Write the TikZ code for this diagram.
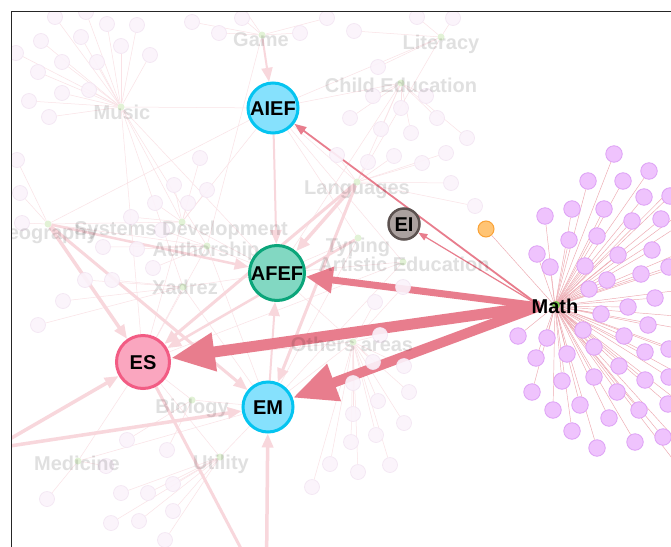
\documentclass[tikz,border=0pt]{standalone}
\usepackage{fontspec}
\setmainfont{Liberation Sans}
\usetikzlibrary{arrows.meta}
\definecolor{fnodefill}{HTML}{FBF3FB}
\definecolor{fnodedraw}{HTML}{F3E5F3}
\definecolor{flinec}{HTML}{FAE2E6}
\definecolor{fthickc}{HTML}{F8D7DC}
\definecolor{hubgreen}{HTML}{E2F2D6}
\definecolor{pfill}{HTML}{EFC3FD}
\definecolor{pdraw}{HTML}{DDA0F5}
\definecolor{plinec}{HTML}{EDA8B0}
\definecolor{edgec}{HTML}{E87D8D}
\definecolor{cyanfill}{HTML}{86E1FD}
\definecolor{cyandraw}{HTML}{05C4F0}
\definecolor{tealfill}{HTML}{82D8C2}
\definecolor{tealdraw}{HTML}{0BA57A}
\definecolor{pinkfill}{HTML}{FAA6BF}
\definecolor{pinkdraw}{HTML}{F25C84}
\definecolor{grayfill}{HTML}{ABA19F}
\definecolor{graydraw}{HTML}{5C5250}
\definecolor{orangefill}{HTML}{FFC474}
\definecolor{orangedraw}{HTML}{FAA236}
\definecolor{mathgreen}{HTML}{7CC850}
\pgfdeclarelayer{l1}\pgfdeclarelayer{l2}\pgfdeclarelayer{l3}\pgfdeclarelayer{l4}\pgfdeclarelayer{front}
\pgfsetlayers{l1,l2,l3,l4,main,front}
\begin{document}
\begin{tikzpicture}[x=1pt,y=-1pt,
  fnode/.style={circle,minimum size=15pt,inner sep=0pt,fill=fnodefill,draw=fnodedraw,line width=0.6pt,fill opacity=0.9},
  hubdot/.style={circle,minimum size=7pt,inner sep=0pt,fill=hubgreen},
  flabel/.style={font=\bfseries\fontsize{20}{24}\selectfont,text=black,text opacity=0.12,inner sep=0pt,text height=14.4pt,text depth=0pt},
  fline/.style={draw=flinec,line width=0.5pt},
  fthick/.style={draw=fthickc,line width=3pt,-{Triangle[length=14pt,width=11pt]}},
  pnode/.style={circle,minimum size=16.5pt,inner sep=0pt,fill=pfill,draw=pdraw,line width=0.8pt},
  pline/.style={draw=plinec,line width=0.45pt},
  mainnode/.style={circle,inner sep=0pt,line width=3pt,font=\bfseries\fontsize{20}{24}\selectfont,text height=14.4pt,text depth=0pt},
  mainedge/.style={draw=edgec},
]
\useasboundingbox (0,0) rectangle (671,546);
\begin{pgfonlayer}{l1}
\fill[white] (0,0) rectangle (671,546);
\end{pgfonlayer}

% ---------- main nodes ----------
\node[mainnode,minimum size=50pt,fill=cyanfill,draw=cyandraw] (AIEF) at (273,108) {AIEF};
\node[mainnode,minimum size=55pt,fill=tealfill,draw=tealdraw] (AFEF) at (277,273) {AFEF};
\node[mainnode,minimum size=53pt,fill=pinkfill,draw=pinkdraw] (ES) at (143,362) {ES};
\node[mainnode,minimum size=50pt,fill=cyanfill,draw=cyandraw] (EM) at (268,407) {EM};
\node[mainnode,minimum size=31pt,line width=2.5pt,fill=grayfill,draw=graydraw] (EI) at (404,224) {EI};
\node[circle,minimum size=16pt,inner sep=0pt,fill=orangefill,draw=orangedraw,line width=1pt] (OR) at (486,229) {};
\node[circle,minimum size=8pt,inner sep=0pt,fill=mathgreen] (mdot) at (556,305) {};
\node[font=\bfseries\fontsize{20}{24}\selectfont,inner sep=0pt,text height=14.4pt,text depth=0pt] (Math) at (555,306) {Math};
\coordinate (mathc) at (540,306);
\coordinate (mathp) at (555,306);

% ---------- faint hubs, leaves, labels ----------
\begin{pgfonlayer}{l3}
\foreach \n/\x/\y in {hmu/121/107,hga/262/35,hli/441/37,hce/401/83,hla/357/182,hsd/182/222,hge/48/224,hau/207/246,hxa/183/287,hot/353/342,hbi/192/400,hme/78/461,hut/220/457,hty/358/238,har/403/262}
  \node[hubdot] (\n) at (\x,\y) {};
\foreach \x/\y [count=\i] in {55/17,86/12,107/24,137/25,16/53,41/41,81/37,121/46,150/55,62/62,97/62,38/72,89/90,62/93,29/101,49/117}
  \node[fnode] (mu\i) at (\x,\y) {};
\foreach \x/\y [count=\i] in {192/22,219/33,242/18,300/33,327/18,240/3}
  \node[fnode] (ga\i) at (\x,\y) {};
\foreach \x/\y [count=\i] in {417/17,453/18,354/31,378/67}
  \node[fnode] (li\i) at (\x,\y) {};
\foreach \x/\y [count=\i] in {373/96,401/108,426/96,350/118,381/129,411/133,437/118,467/138}
  \node[fnode] (ce\i) at (\x,\y) {};
\foreach \x/\y [count=\i] in {337/155,368/162,394/156,422/163,446/153,451/183,475/206}
  \node[fnode] (la\i) at (\x,\y) {};
\foreach \x/\y [count=\i] in {200/158,174/185,207/190,188/203,155/203,131/217}
  \node[fnode] (sd\i) at (\x,\y) {};
\foreach \x/\y [count=\i] in {17/160,20/193,22/223}
  \node[fnode] (ge\i) at (\x,\y) {};
\foreach \x/\y [count=\i] in {103/247,137/249,162/230,153/268}
  \node[fnode] (au\i) at (\x,\y) {};
\foreach \x/\y [count=\i] in {85/280,112/280,63/301,38/325}
  \node[fnode] (xa\i) at (\x,\y) {};
\foreach \x/\y [count=\i] in {403/287,375/302,380/335,373/362,404/366,353/383,409/392,378/401,353/414,404/423,351/442,376/435,330/464,358/472,390/465,312/487}
  \node[fnode] (ot\i) at (\x,\y) {};
\foreach \x/\y [count=\i] in {127/440,167/450}
  \node[fnode] (bi\i) at (\x,\y) {};
\foreach \x/\y [count=\i] in {47/499,106/466}
  \node[fnode] (me\i) at (\x,\y) {};
\foreach \x/\y [count=\i] in {173/484,148/493,121/493,173/511,139/521,111/523,165/540}
  \node[fnode] (ut\i) at (\x,\y) {};
\node[flabel] (lga) at (261,39) {Game};
\node[flabel] (lli) at (441,42) {Literacy};
\node[flabel] (lce) at (401,85) {Child Education};
\node[flabel] (lmu) at (122,112) {Music};
\node[flabel] (lla) at (357,187) {Languages};
\node[flabel] (lge) at (45,232) {Geography};
\node[flabel] (lsd) at (181,228) {Systems Development};
\node[flabel] (lau) at (206,249) {Authorship};
\node[flabel] (lty) at (358,245) {Typing};
\node[flabel] (lar) at (404,264) {Artistic Education};
\node[flabel] (lxa) at (185,287) {Xadrez};
\node[flabel] (lot) at (352,344) {Others areas};
\node[flabel] (lbi) at (192,406) {Biology};
\node[flabel] (lme) at (77,463) {Medicine};
\node[flabel] (lut) at (221,462) {Utility};
\end{pgfonlayer}

% ---------- faint connectors ----------
\coordinate (offL1) at (-30,462);
\coordinate (offL2) at (-30,452);
\coordinate (offB1) at (266,620);
\coordinate (offB2) at (268,600);
\begin{pgfonlayer}{l1}
\foreach \i in {1,...,16} \draw[fline] (hmu) -- (mu\i);
\foreach \i in {1,...,6} \draw[fline] (hga) -- (ga\i);
\foreach \i in {1,...,4} \draw[fline] (hli) -- (li\i);
\foreach \i in {1,...,8} \draw[fline] (hce) -- (ce\i);
\foreach \i in {1,...,7} \draw[fline] (hla) -- (la\i);
\foreach \i in {1,...,6} \draw[fline] (hsd) -- (sd\i);
\foreach \i in {1,...,3} \draw[fline] (hge) -- (ge\i);
\foreach \i in {1,...,4} \draw[fline] (hau) -- (au\i);
\foreach \i in {1,...,4} \draw[fline] (hxa) -- (xa\i);
\foreach \i in {1,...,16} \draw[fline] (hot) -- (ot\i);
\foreach \i in {1,2} \draw[fline] (hbi) -- (bi\i);
\foreach \i in {1,2} \draw[fline] (hme) -- (me\i);
\foreach \i in {1,...,7} \draw[fline] (hut) -- (ut\i);
\foreach \a/\b in {hmu/AIEF,hmu/hsd,hmu/hau,hmu/ES,hmu/AFEF,hmu/hxa,AIEF/hge,AIEF/hsd,AIEF/hla,AIEF/hty,AIEF/hce,AIEF/hli,AIEF/har,hga/hau,hla/hce,hla/hli,hty/AFEF,hty/EM,har/AFEF,har/EM,har/ES,hot/EM,hot/ES,hot/AFEF,hsd/AFEF,hau/AFEF,hau/EM,hxa/EM,hxa/ES,hbi/ES,hbi/EM,hut/EM,hut/ES,hme/ES,hme/EM,hge/hau,hge/hsd,hsd/ES,hau/ES,hce/AFEF,hxa/AFEF}
  \draw[fline] (\a) -- (\b);
\draw[fthick,line width=2pt] (hga) -- (AIEF);
\draw[fthick,line width=2pt] (AIEF) -- (AFEF);
\draw[fthick,line width=3.5pt] (hla) -- (AFEF);
\draw[fthick] (hla) -- (EM);
\draw[fthick] (hla) -- (ES);
\draw[fthick,line width=2.5pt] (hty) -- (ES);
\draw[fthick,line width=3.5pt] (hge) -- (ES);
\draw[fthick] (hge) -- (EM);
\draw[fthick,line width=2.5pt] (hge) -- (AFEF);
\draw[fthick,line width=3.5pt] (offL1) -- (ES);
\draw[fthick,line width=3.5pt] (offL2) -- (EM);
\draw[fthick,line width=3.5pt] (offB1) -- (EM);
\draw[fthickc,line width=3pt] (offB2) -- (ES);
\draw[fthick,line width=2pt] (EM) -- (AFEF);
\end{pgfonlayer}

% ---------- purple leaves of Math ----------
\begin{pgfonlayer}{l4}
\foreach \x/\y [count=\i] in {614/154,649/171,588/181,623/181,670/196,644/197,545/216,572/209,604/209,632/221,661/219,537/254,569/240,597/236,618/255,652/250,669/267,550/267,585/266,641/274,607/280,589/289,655/298,628/307,601/314,648/325,583/330,669/349,624/336,645/352,518/336,547/338,594/347,567/354,536/358,619/366,645/380,669/377,668/404,562/381,594/377,617/392,532/392,580/405,639/410,553/410,609/418,663/437,572/431,635/442,597/448,700/160,712/190,700/212,715/238,705/258,720/285,700/318,715/335,705/360,712/392,700/418,690/455,685/475}
  \node[pnode] (p\i) at (\x,\y) {};
\end{pgfonlayer}

% ---------- main connectors ----------
\begin{pgfonlayer}{l2}
\foreach \i in {1,...,64} \draw[pline] (mathp) -- (p\i);
\draw[pline] (mathp) -- (OR);
\draw[mainedge,line width=1.8pt,-{Triangle[length=12pt,width=9pt]}] (mathc) -- (AIEF);
\draw[mainedge,line width=1.2pt,-{Triangle[length=9pt,width=7pt]}] (mathc) -- (EI);
\draw[mainedge,line width=7pt,-{Triangle[length=27pt,width=25pt]}] (mathc) -- (AFEF);
\draw[mainedge,line width=11pt,-{Triangle[length=44pt,width=36pt]}] (mathc) -- (ES);
\draw[mainedge,line width=10pt,-{Triangle[length=44pt,width=37pt]}] (mathc) -- (EM);
\end{pgfonlayer}

% ---------- frame ----------
\begin{pgfonlayer}{front}
\fill[white] (0,0) rectangle (10.5,546);
\fill[white] (0,0) rectangle (671,10.5);
\draw[black!85,line width=1.2pt] (11.2,560) -- (11.2,11.2) -- (680,11.2);
\end{pgfonlayer}
\end{tikzpicture}
\end{document}
